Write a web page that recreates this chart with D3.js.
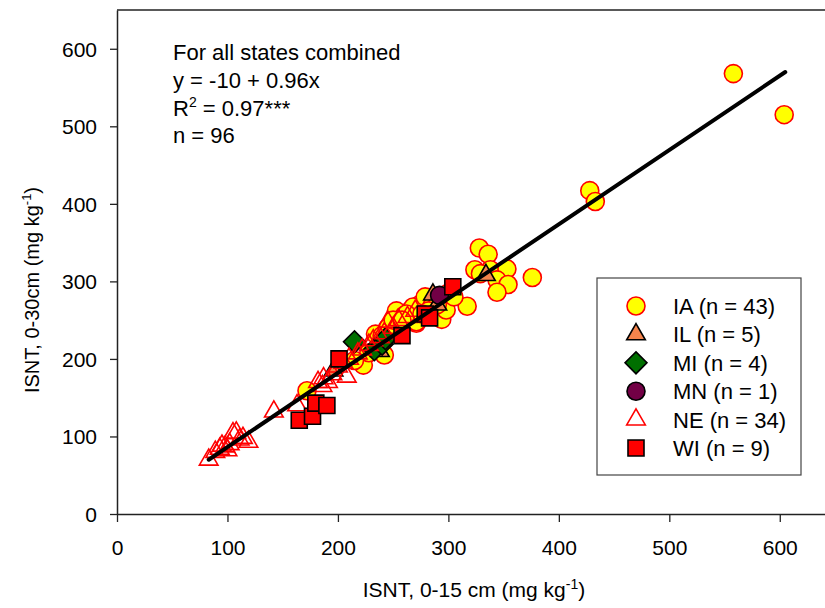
<!DOCTYPE html>
<html>
<head>
<meta charset="utf-8">
<script src="https://cdn.jsdelivr.net/npm/d3@7"></script>
<style>
  body { margin: 0; background: #fff; }
  text { font-family: Arial, "Liberation Sans", sans-serif; fill: #000; }
</style>
</head>
<body>
<svg id="chart" width="825" height="608"></svg>
<script>
/** Points, [x (0-15 cm), y (0-30 cm)] **/
var IA = [[172,159],[223,192],[242,205],[234,232],[240,230],[253,262],[260,256],[265,262],
  [271,246],[274,270],[268,267],[279,280],[271,248],[294,251],[298,263],[317,268],[288,276],
  [300,285],[328,343],[336,335],[324,315],[338,315],[353,316],[344,302],[354,296],[344,286],
  [376,305],[329,310],[428,417],[433,403],[558,568],[604,515],[285,268],[290,270],[262,258],
  [245,240],[228,208],[215,198],[250,250],[282,262],[305,280],[258,250],[276,258]];
var IL = [[196,185],[238,210],[286,283],[334,308],[290,270]];
var MI = [[215,222],[233,212],[240,219],[243,226]];
var MN = [[292,282]];
var NE = [[83,70],[89,80],[93,84],[98,87],[102,90],[105,104],[108,105],[111,96],[114,98],
  [119,93],[100,82],[95,88],[142,132],[163,140],[182,170],[187,175],[191,170],[186,165],
  [195,180],[200,190],[208,177],[210,200],[218,207],[222,212],[228,218],[232,224],[238,228],
  [242,233],[245,248],[250,240],[255,250],[263,254],[270,262],[205,195]];
var WI = [[165,121],[177,126],[180,143],[190,140],[201,200],[258,230],[279,258],[283,253],[304,293]];

var fitX = [83, 605];
var fitY = [70, 570];

var xTicks = [0, 100, 200, 300, 400, 500, 600];
var yTicks = [0, 100, 200, 300, 400, 500, 600];

var legendLabels = ["IA (n = 43)", "IL (n = 5)", "MI (n = 4)", "MN (n = 1)", "NE (n = 34)", "WI (n = 9)"];

/** marker style for every state **/
var states = [
    {data: IA, shape: "circle",   fill: "#ffff00", stroke: "#ff0000"},
    {data: IL, shape: "triangle", fill: "#f4844c", stroke: "#000"},
    {data: MI, shape: "diamond",  fill: "#006f00", stroke: "#000"},
    {data: MN, shape: "circle",   fill: "#720045", stroke: "#000"},
    {data: NE, shape: "triangle", fill: "none",    stroke: "#ff0000"},
    {data: WI, shape: "square",   fill: "#ff0000", stroke: "#000"}
];

var svg = d3.select("#chart");
var plotLeft = 117, plotTop = 10, plotBottom = 514, plotRight = 835;

var xScale = d3.scaleLinear().domain([0, 650]).range([plotLeft, plotRight]);
var yScale = d3.scaleLinear().domain([0, 650]).range([plotBottom, plotTop]);

function symbolPath(shape){
    if(shape === "circle"){ return d3.symbol().type(d3.symbolCircle).size(Math.PI * 9 * 9)(); }
    if(shape === "triangle"){ return d3.symbol().type(d3.symbolTriangle).size(150)(); }
    if(shape === "square"){ return d3.symbol().type(d3.symbolSquare).size(256)(); }
    return d3.symbol().type(d3.symbolSquare).size(240)();
}
function symbolTransform(shape, x, y){
    var t = "translate(" + x + "," + y + ")";
    if(shape === "diamond"){ t += " rotate(45)"; }
    return t;
}

/** Axes **/
var xAxis = d3.axisBottom(xScale).tickValues(xTicks).tickSize(8).tickSizeOuter(0);
var yAxis = d3.axisLeft(yScale).tickValues(yTicks).tickSize(7).tickSizeOuter(0);

var gx = svg.append("g")
    .attr("transform", "translate(0," + plotBottom + ")")
    .call(xAxis);
var gy = svg.append("g")
    .attr("transform", "translate(" + plotLeft + ",0)")
    .call(yAxis);

[gx, gy].forEach(function(g){
    g.select(".domain").attr("stroke", "#222").attr("stroke-width", 1.5);
    g.selectAll(".tick line").attr("stroke", "#222").attr("stroke-width", 1.3);
    g.selectAll(".tick text").attr("font-size", 21).attr("font-family", "Arial, 'Liberation Sans', sans-serif").attr("fill", "#000");
});
gx.selectAll(".tick text").attr("dy", null).attr("y", 41);
gy.selectAll(".tick text").attr("x", -20).attr("dy", "0.35em");

/** top frame line **/
svg.append("line")
    .attr("x1", plotLeft).attr("x2", 825)
    .attr("y1", plotTop).attr("y2", plotTop)
    .attr("stroke", "#222").attr("stroke-width", 1.5);

/** Axis titles **/
var xt = svg.append("text")
    .attr("x", 474).attr("y", 597)
    .attr("text-anchor", "middle")
    .style("font-size", "21px");
xt.append("tspan").text("ISNT, 0-15 cm (mg kg");
xt.append("tspan").text("-1").attr("dy", -8).style("font-size", "14px");
xt.append("tspan").text(")").attr("dy", 8);

var yt = svg.append("text")
    .attr("transform", "translate(39,290) rotate(-90)")
    .attr("text-anchor", "middle")
    .style("font-size", "20px");
yt.append("tspan").text("ISNT, 0-30cm (mg kg");
yt.append("tspan").text("-1").attr("dy", -8).style("font-size", "13px");
yt.append("tspan").text(")").attr("dy", 8);

/** Points **/
states.forEach(function(s){
    svg.append("g").selectAll("path")
        .data(s.data)
        .enter().append("path")
        .attr("d", symbolPath(s.shape))
        .attr("transform", function(d){ return symbolTransform(s.shape, xScale(d[0]), yScale(d[1])); })
        .attr("fill", s.fill)
        .attr("stroke", s.stroke)
        .attr("stroke-width", 1.6);
});

/** Regression line **/
svg.append("path")
    .datum(d3.zip(fitX, fitY))
    .attr("fill", "none")
    .attr("stroke", "#000")
    .attr("stroke-width", 4)
    .attr("stroke-linecap", "round")
    .attr("d", d3.line().x(function(d){ return xScale(d[0]); }).y(function(d){ return yScale(d[1]); }));

/** Stats text **/
var stats = svg.append("g").style("font-size", "22px");
stats.append("text").attr("x", 173).attr("y", 60).text("For all states combined");
stats.append("text").attr("x", 173).attr("y", 88).text("y = -10 + 0.96x");
var r2 = stats.append("text").attr("x", 173).attr("y", 116);
r2.append("tspan").text("R");
r2.append("tspan").text("2").attr("dy", -9).style("font-size", "14px");
r2.append("tspan").text(" = 0.97***").attr("dy", 9);
stats.append("text").attr("x", 173).attr("y", 143).text("n = 96");

/** Legend **/
var legend = svg.append("g");
legend.append("rect")
    .attr("x", 597).attr("y", 278)
    .attr("width", 204).attr("height", 197)
    .attr("fill", "#fff")
    .attr("stroke", "#444").attr("stroke-width", 1.2);
states.forEach(function(s, i){
    var cy = 306 + i * 28.4;
    legend.append("path")
        .attr("d", symbolPath(s.shape))
        .attr("transform", symbolTransform(s.shape, 636, cy))
        .attr("fill", s.fill === "none" ? "#fff" : s.fill)
        .attr("stroke", s.stroke)
        .attr("stroke-width", 1.6);
    legend.append("text")
        .attr("x", 673).attr("y", cy)
        .attr("dy", "0.36em")
        .style("font-size", "22px")
        .text(legendLabels[i]);
});
</script>
</body>
</html>
